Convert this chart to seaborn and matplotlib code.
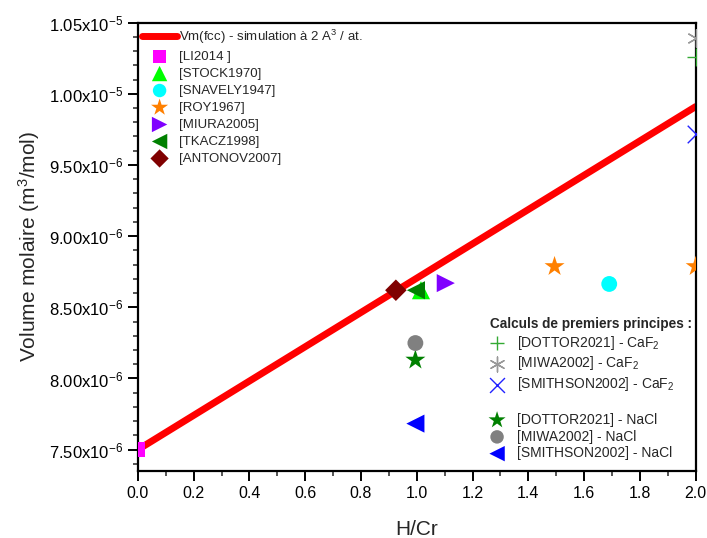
import matplotlib
matplotlib.use("Agg")
import matplotlib.pyplot as plt
import seaborn as sns
from matplotlib.lines import Line2D
from matplotlib.ticker import FuncFormatter, MultipleLocator

# fit line Vm(fcc)
line_x = [0.0, 2.0]
line_y = [7.50e-6, 9.91e-6]

# experimental data
li2014_x, li2014_y = [0.0], [7.50e-6]
stock_x, stock_y = [1.015], [8.62e-6]
snavely_x, snavely_y = [1.69], [8.664e-6]
roy_x, roy_y = [1.494, 2.00], [8.787e-6, 8.787e-6]
miura_x, miura_y = [1.104], [8.67e-6]
tkacz_x, tkacz_y = [0.997], [8.62e-6]
antonov_x, antonov_y = [0.925], [8.62e-6]

# first-principles data
dottor_caf2_x, dottor_caf2_y = [2.00], [1.026e-5]
miwa_caf2_x, miwa_caf2_y = [2.00], [1.039e-5]
smithson_caf2_x, smithson_caf2_y = [2.00], [9.72e-6]
dottor_nacl_x, dottor_nacl_y = [0.995], [8.13e-6]
miwa_nacl_x, miwa_nacl_y = [0.995], [8.249e-6]
smithson_nacl_x, smithson_nacl_y = [0.995], [7.683e-6]

sns.set_style("ticks")
plt.rcParams["font.family"] = ["Liberation Sans", "DejaVu Sans"]
plt.rcParams["mathtext.fontset"] = "custom"
plt.rcParams["mathtext.rm"] = "Liberation Sans"
plt.rcParams["mathtext.it"] = "Liberation Sans:italic"
plt.rcParams["mathtext.bf"] = "Liberation Sans:bold"

fig = plt.figure(figsize=(7.07, 5.38), dpi=100)
ax = fig.add_axes([0.195, 0.1245, 0.789, 0.8335])

sns.lineplot(x=line_x, y=line_y, color="red", linewidth=5, ax=ax,
             label="Vm(fcc) - simulation à 2 A$^3$ / at.")

exp_series = [
    (li2014_x, li2014_y, "s", "#FF00FF", 110, "[LI2014 ]"),
    (stock_x, stock_y, "^", "#00FF00", 170, "[STOCK1970]"),
    (snavely_x, snavely_y, "o", "#00FFFF", 130, "[SNAVELY1947]"),
    (roy_x, roy_y, "*", "#FF8000", 230, "[ROY1967]"),
    (miura_x, miura_y, ">", "#8000FF", 170, "[MIURA2005]"),
    (tkacz_x, tkacz_y, "<", "#008000", 170, "[TKACZ1998]"),
    (antonov_x, antonov_y, "D", "#800000", 120, "[ANTONOV2007]"),
]
calc_series = [
    (dottor_caf2_x, dottor_caf2_y, "+", "#33AA33", 160, "[DOTTOR2021] - CaF$_2$"),
    (miwa_caf2_x, miwa_caf2_y, (6, 2, 0), "#999999", 160, "[MIWA2002] - CaF$_2$"),
    (smithson_caf2_x, smithson_caf2_y, "x", "#2222FF", 160, "[SMITHSON2002] - CaF$_2$"),
    (dottor_nacl_x, dottor_nacl_y, "*", "#008000", 230, "[DOTTOR2021] - NaCl"),
    (miwa_nacl_x, miwa_nacl_y, "o", "#808080", 130, "[MIWA2002] - NaCl"),
    (smithson_nacl_x, smithson_nacl_y, "<", "#0000FF", 170, "[SMITHSON2002] - NaCl"),
]

exp_handles = []
for xs, ys, m, c, s, lab in exp_series:
    sc = ax.scatter(xs, ys, marker=m, color=c, s=s, edgecolors="none", zorder=3, label=lab)
    exp_handles.append(sc)

calc_handles = []
for xs, ys, m, c, s, lab in calc_series:
    if m in ("+", "x") or isinstance(m, tuple):
        sc = ax.scatter(xs, ys, marker=m, color=c, s=s, linewidths=1.0, zorder=3, label=lab)
    else:
        sc = ax.scatter(xs, ys, marker=m, color=c, s=s, edgecolors="none", zorder=3, label=lab)
    calc_handles.append(sc)

ax.set_xlim(0, 2.0)
ax.set_ylim(7.35e-6, 1.05e-5)
ax.xaxis.set_major_locator(MultipleLocator(0.2))
ax.xaxis.set_minor_locator(MultipleLocator(0.1))
ax.yaxis.set_major_locator(MultipleLocator(0.5e-6))
ax.yaxis.set_minor_locator(MultipleLocator(0.1e-6))


def sci_fmt(v, pos):
    exp = -5 if v >= 9.999e-6 else -6
    mant = v / 10 ** exp
    return f"{mant:.2f}x10$^{{{exp}}}$"


ax.yaxis.set_major_formatter(FuncFormatter(sci_fmt))
ax.xaxis.set_major_formatter(FuncFormatter(lambda v, p: f"{v:.1f}"))
ax.tick_params(which="major", direction="out", length=7, width=1.4, labelsize=12, colors="black")
ax.tick_params(axis="x", which="major", labelsize=11.5)
ax.tick_params(which="minor", direction="out", length=3.8, width=1.1)
for sp in ax.spines.values():
    sp.set_linewidth(1.6)
    sp.set_color("black")
    sp.set_visible(True)

ax.set_xlabel("H/Cr", fontsize=15, labelpad=14)
ax.set_ylabel("Volume molaire (m$^3$/mol)", fontsize=15, labelpad=5)

line_handle = ax.get_lines()[0]
leg1 = ax.legend([line_handle] + exp_handles,
                 [line_handle.get_label()] + [h.get_label() for h in exp_handles],
                 loc="upper left", bbox_to_anchor=(-0.006, 1.006), frameon=False,
                 fontsize=9.5, labelspacing=0.36, handlelength=2.6, handletextpad=0.2,
                 borderaxespad=0.2, markerscale=0.85)
ax.add_artist(leg1)

blank = Line2D([], [], linestyle="none")
leg2_handles = calc_handles[:3] + [blank] + calc_handles[3:]
leg2_labels = [h.get_label() for h in calc_handles[:3]] + [" "] + [h.get_label() for h in calc_handles[3:]]
leg2 = ax.legend(leg2_handles, leg2_labels, loc="lower right", bbox_to_anchor=(1.016, -0.004),
                 frameon=False, fontsize=10, labelspacing=0.2, handlelength=1.0,
                 handletextpad=0.95, title="Calculs de premiers principes :",
                 title_fontproperties={"weight": "bold", "size": 9.8}, markerscale=0.85)
leg2._legend_box.align = "left"

fig.savefig("out.png", dpi=100)
